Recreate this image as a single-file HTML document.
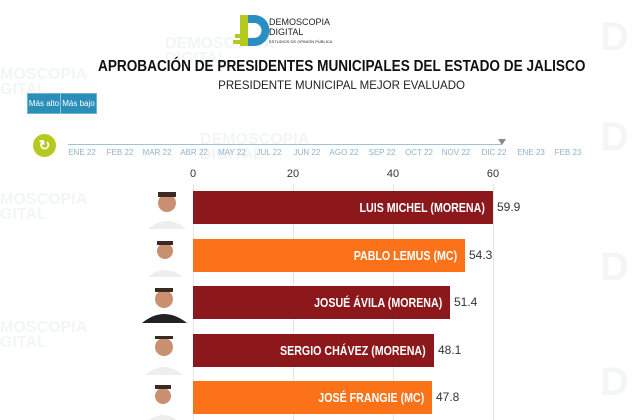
<!DOCTYPE html>
<html><head><meta charset="utf-8"><style>
body{margin:0;width:640px;height:420px;background:#fff;font-family:"Liberation Sans",sans-serif;position:relative;overflow:hidden}
.a{position:absolute}
.bar{position:absolute;left:193px;height:33px;color:#fff;font-size:13px;font-weight:bold;text-align:right;box-sizing:border-box;padding-right:8px;line-height:33px;white-space:nowrap}
.bar span{display:inline-block;transform:scaleX(0.82);transform-origin:right center}
.val{position:absolute;font-size:12px;color:#333;line-height:33px}
.tl{position:absolute;top:148px;font-size:8px;color:#8fb3cc;width:40px;text-align:center;white-space:nowrap}
.wm{position:absolute;color:#f2f5f6;font-weight:bold;font-size:16px;line-height:15px}
</style></head><body>
<div class="wm" style="left:0;top:67px">MOSCOPIA<br>GITAL</div>
<div class="wm" style="left:165px;top:36px">DEMOSCOPIA<br>DIGITAL</div>
<div class="wm" style="left:200px;top:132px">DEMOSCOPIA<br>DIGITAL</div>
<div class="wm" style="left:0;top:192px">MOSCOPIA<br>GITAL</div>
<div class="wm" style="left:0;top:320px">MOSCOPIA<br>GITAL</div>
<div class="wm" style="left:600px;top:30px;font-size:40px;color:#f3f7f4">D</div>
<div class="wm" style="left:600px;top:130px;font-size:40px;color:#f3f7f4">D</div>
<div class="wm" style="left:600px;top:260px;font-size:40px;color:#f3f7f4">D</div>
<div class="wm" style="left:600px;top:375px;font-size:40px;color:#f3f7f4">D</div>
<svg class="a" style="left:233px;top:14px" width="100" height="34">
<rect x="7" y="1" width="8" height="31" fill="#b5c91e"/>
<rect x="2" y="20" width="6" height="4" fill="#b5c91e"/><rect x="0" y="26" width="8" height="4" fill="#b5c91e"/>
<path d="M15 1h6a15 15 0 0 1 0 31h-6v-8h6a7 7 0 0 0 0-15h-6z" fill="#2a8fc0"/>
<text x="36" y="11" font-size="9" fill="#222" font-family="Liberation Sans">DEMOSCOPIA</text>
<text x="36" y="21" font-size="9" fill="#222" font-family="Liberation Sans">DIGITAL</text>
<text x="36" y="29" font-size="4" fill="#222" font-family="Liberation Sans">ESTUDIOS DE OPINIÓN PÚBLICA</text>
</svg>
<div class="a" style="left:0;width:684px;top:58px;text-align:center;font-size:16px;font-weight:bold;color:#111;white-space:nowrap"><span style="display:inline-block;transform:scaleX(0.85)">APROBACIÓN DE PRESIDENTES MUNICIPALES DEL ESTADO DE JALISCO</span></div>
<div class="a" style="left:0;width:684px;top:78px;text-align:center;font-size:12px;color:#222;white-space:nowrap"><span style="display:inline-block;transform:scaleX(0.96)">PRESIDENTE MUNICIPAL MEJOR EVALUADO</span></div>
<div class="a" style="left:27px;top:93px;width:70px;height:21px;background:#2a8fb8;border:1px solid #6fb5d5;box-sizing:border-box;color:#fff;font-size:8px;line-height:19px;display:flex;white-space:nowrap">
<span style="width:32px;text-align:center;border-right:1px solid #8cc6e0">Más alto</span><span style="flex:1;text-align:center">Más bajo</span></div>
<div class="a" style="left:33px;top:134px;width:23px;height:23px;border-radius:50%;background:#b5c91e;color:#fff;font-size:14px;font-weight:bold;text-align:center;line-height:23px">↻</div>
<div class="a" style="left:68px;top:144px;width:434px;height:1px;background:#9fc3d8"></div>
<div class="a" style="left:498px;top:139px;width:0;height:0;border-left:4px solid transparent;border-right:4px solid transparent;border-top:6px solid #888"></div>
<div class="tl" style="left:62px">ENE 22</div><div class="tl" style="left:100px">FEB 22</div><div class="tl" style="left:137px">MAR 22</div><div class="tl" style="left:174px">ABR 22</div><div class="tl" style="left:212px">MAY 22</div><div class="tl" style="left:249px">JUL 22</div><div class="tl" style="left:287px">JUN 22</div><div class="tl" style="left:324px">AGO 22</div><div class="tl" style="left:362px">SEP 22</div><div class="tl" style="left:399px">OCT 22</div><div class="tl" style="left:436px">NOV 22</div><div class="tl" style="left:474px">DIC 22</div><div class="tl" style="left:511px">ENE 23</div><div class="tl" style="left:548px">FEB 23</div>
<div class="a" style="left:183px;top:168px;width:20px;text-align:center;font-size:11px;color:#333">0</div>
<div class="a" style="left:283px;top:168px;width:20px;text-align:center;font-size:11px;color:#333">20</div>
<div class="a" style="left:383px;top:168px;width:20px;text-align:center;font-size:11px;color:#333">40</div>
<div class="a" style="left:483px;top:168px;width:20px;text-align:center;font-size:11px;color:#333">60</div>
<div class="a" style="left:193px;top:184px;width:1px;height:236px;background:#e5e5e5"></div>
<div class="a" style="left:293px;top:184px;width:1px;height:236px;background:#e5e5e5"></div>
<div class="a" style="left:393px;top:184px;width:1px;height:236px;background:#e5e5e5"></div>
<div class="a" style="left:493px;top:184px;width:1px;height:236px;background:#e5e5e5"></div>
<div class="bar" style="top:191px;width:300px;background:#8c181b"><span>LUIS MICHEL (MORENA)</span></div><div class="val" style="left:497px;top:191px">59.9</div>
<div class="bar" style="top:239px;width:272px;background:#fb7219"><span>PABLO LEMUS (MC)</span></div><div class="val" style="left:469px;top:239px">54.3</div>
<div class="bar" style="top:286px;width:257px;background:#8c181b"><span>JOSUÉ ÁVILA (MORENA)</span></div><div class="val" style="left:454px;top:286px">51.4</div>
<div class="bar" style="top:334px;width:241px;background:#8c181b"><span>SERGIO CHÁVEZ (MORENA)</span></div><div class="val" style="left:438px;top:334px">48.1</div>
<div class="bar" style="top:381px;width:239px;background:#fb7219"><span>JOSÉ FRANGIE (MC)</span></div><div class="val" style="left:436px;top:381px">47.8</div>
<svg class="a" style="left:140px;top:185px" width="55" height="235">
<g fill="#c89070"><circle cx="27" cy="18" r="9"/><circle cx="25" cy="66" r="8"/><circle cx="24" cy="114" r="9"/><circle cx="24" cy="162" r="9"/><circle cx="23" cy="211" r="8"/></g>
<g fill="#3a2a22"><rect x="18" y="7" width="18" height="5"/><rect x="17" y="56" width="16" height="4"/><rect x="15" y="103" width="18" height="4"/><rect x="15" y="151" width="18" height="3"/><rect x="15" y="200" width="16" height="4"/></g>
<g fill="#eeeeec"><path d="M8 44q19-16 38 0z"/><path d="M8 92q17-14 35 0z"/><path d="M5 190q19-16 38 0z"/><path d="M5 238q18-16 36 0z"/></g>
<path d="M2 138q22-18 45 0z" fill="#222"/>
</svg>
</body></html>
